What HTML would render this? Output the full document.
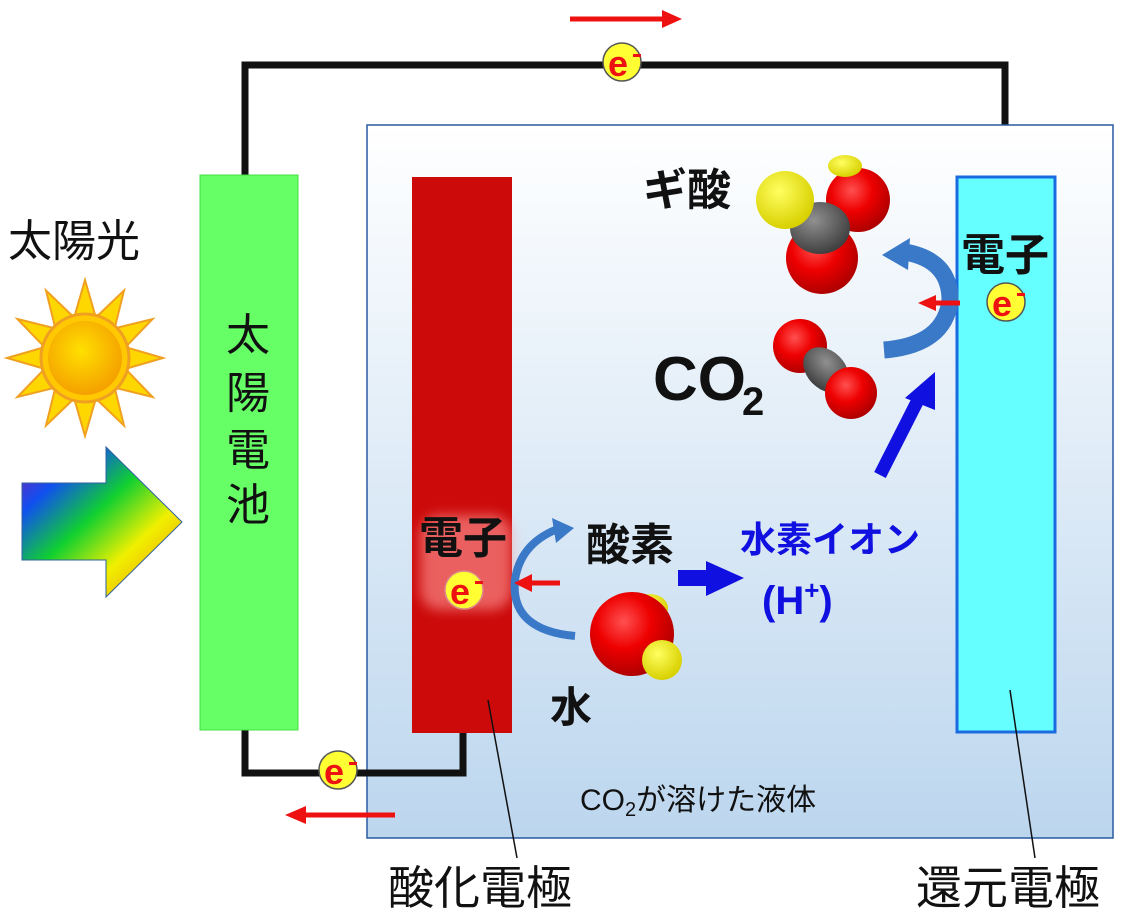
<!DOCTYPE html>
<html><head><meta charset="utf-8"><style>
html,body{margin:0;padding:0;background:#fff;}
svg{display:block;}
text{font-family:"Liberation Sans","Noto Sans CJK JP",sans-serif;}
</style></head><body>
<svg width="1124" height="917" viewBox="0 0 1124 917" xmlns="http://www.w3.org/2000/svg">
<defs>
<linearGradient id="liq" x1="0" y1="0" x2="0" y2="1"><stop offset="0" stop-color="#ffffff"/><stop offset="1" stop-color="#bcd6ee"/></linearGradient>
<linearGradient id="rb" x1="0" y1="0" x2="1" y2="1"><stop offset="0" stop-color="#8a1aa8"/><stop offset="0.22" stop-color="#1050f0"/><stop offset="0.45" stop-color="#10d030"/><stop offset="0.68" stop-color="#f0f000"/><stop offset="1" stop-color="#f08000"/></linearGradient>
<radialGradient id="sun" cx="0.45" cy="0.4" r="0.6"><stop offset="0" stop-color="#ffe000"/><stop offset="1" stop-color="#f5a000"/></radialGradient>
<radialGradient id="red" cx="0.4" cy="0.35" r="0.65"><stop offset="0" stop-color="#ff5050"/><stop offset="0.5" stop-color="#ee0000"/><stop offset="1" stop-color="#b00000"/></radialGradient>
<radialGradient id="yel" cx="0.4" cy="0.35" r="0.65"><stop offset="0" stop-color="#ffff60"/><stop offset="1" stop-color="#d8d000"/></radialGradient>
<radialGradient id="gry" cx="0.4" cy="0.35" r="0.65"><stop offset="0" stop-color="#909090"/><stop offset="1" stop-color="#404040"/></radialGradient>
<filter id="bl" x="-30%" y="-30%" width="160%" height="160%"><feGaussianBlur stdDeviation="6"/></filter>
</defs>

<polyline points="245,175 245,65 1005,65 1005,177" fill="none" stroke="#111" stroke-width="7"/>
<line x1="570" y1="19" x2="665" y2="19" stroke="#ee1111" stroke-width="5"/>
<polygon points="682,19 662,10 662,28" fill="#ee1111"/>

<rect x="367" y="125" width="746" height="713" fill="url(#liq)" stroke="#2a5aa0" stroke-width="1.5"/>

<polyline points="245,730 245,773 463,773 463,733" fill="none" stroke="#111" stroke-width="7"/>
<line x1="395" y1="815" x2="305" y2="815" stroke="#ee1111" stroke-width="5"/>
<polygon points="285,815 306,806 306,824" fill="#ee1111"/>

<rect x="200" y="175" width="98" height="555" fill="#66ff66" stroke="#44dd44" stroke-width="1"/>
<g font-size="44" text-anchor="middle" fill="#111">
<text x="248" y="350">太</text>
<text x="248" y="408">陽</text>
<text x="248" y="465">電</text>
<text x="248" y="520">池</text>
</g>

<rect x="412" y="177" width="100" height="556" fill="#cc0a0a"/>
<rect x="957" y="177" width="98" height="555" fill="#66ffff" stroke="#1a6ae0" stroke-width="3"/>

<line x1="488" y1="700" x2="517" y2="858" stroke="#111" stroke-width="1.5"/>
<line x1="1010" y1="690" x2="1035" y2="858" stroke="#111" stroke-width="1.5"/>

<g transform="translate(85,358)">
<g fill="#ffd700" stroke="#f0a020" stroke-width="2">
<polygon points="0,-78 11,-40 -11,-40" transform="rotate(0)"/>
<polygon points="0,-78 11,-40 -11,-40" transform="rotate(30)"/>
<polygon points="0,-78 11,-40 -11,-40" transform="rotate(60)"/>
<polygon points="0,-78 11,-40 -11,-40" transform="rotate(90)"/>
<polygon points="0,-78 11,-40 -11,-40" transform="rotate(120)"/>
<polygon points="0,-78 11,-40 -11,-40" transform="rotate(150)"/>
<polygon points="0,-78 11,-40 -11,-40" transform="rotate(180)"/>
<polygon points="0,-78 11,-40 -11,-40" transform="rotate(210)"/>
<polygon points="0,-78 11,-40 -11,-40" transform="rotate(240)"/>
<polygon points="0,-78 11,-40 -11,-40" transform="rotate(270)"/>
<polygon points="0,-78 11,-40 -11,-40" transform="rotate(300)"/>
<polygon points="0,-78 11,-40 -11,-40" transform="rotate(330)"/>
</g>
<circle r="44" fill="#ffc800" stroke="#f0a020" stroke-width="3"/>
<circle r="37" fill="url(#sun)"/>
</g>
<text x="8" y="256" font-size="44" fill="#111">太陽光</text>

<polygon points="22,483 106,483 106,447 182,522 106,597 106,560 22,560" fill="url(#rb)" stroke="#3060a0" stroke-width="1"/>

<rect x="420" y="515" width="92" height="95" rx="20" fill="#ff9999" opacity="0.6" filter="url(#bl)"/>

<g font-weight="bold">
<circle cx="622" cy="62" r="19" fill="#ffff33" stroke="#555" stroke-width="1.5"/><text x="618" y="76" font-size="36" fill="#ee1111" text-anchor="middle">e</text><rect x="633" y="54" width="8" height="3" fill="#ee1111"/>
<circle cx="338" cy="770" r="19" fill="#ffff33" stroke="#555" stroke-width="1.5"/><text x="334" y="784" font-size="36" fill="#ee1111" text-anchor="middle">e</text><rect x="349" y="762" width="8" height="3" fill="#ee1111"/>
<circle cx="1006" cy="302" r="19" fill="#ffff33" stroke="#555" stroke-width="1.5"/><text x="1002" y="316" font-size="36" fill="#ee1111" text-anchor="middle">e</text><rect x="1017" y="293" width="8" height="3" fill="#ee1111"/>
<circle cx="464" cy="590" r="19" fill="#ffff33" stroke="#dd8888" stroke-width="1.5"/><text x="460" y="604" font-size="36" fill="#ee1111" text-anchor="middle">e</text><rect x="475" y="581" width="8" height="3" fill="#ee1111"/>
</g>

<g font-weight="bold" fill="#111">
<text x="419" y="553" font-size="44">電子</text>
<text x="961" y="270" font-size="44">電子</text>
<text x="643" y="205" font-size="44">ギ酸</text>
<text x="653" y="400" font-size="62">CO</text>
<text x="742" y="415" font-size="40">2</text>
<text x="586" y="560" font-size="44">酸素</text>
<text x="550" y="722" font-size="42">水</text>
<text x="740" y="552" font-size="36" fill="#1010e0">水素イオン</text>
<text x="762" y="614" font-size="40" fill="#1010e0">(H<tspan font-size="26" dy="-15">+</tspan><tspan dy="15">)</tspan></text>
</g>
<text x="580" y="810" font-size="30" fill="#111">CO<tspan font-size="20" dy="6">2</tspan><tspan dy="-6">が溶けた液体</tspan></text>
<text x="388" y="904" font-size="46" fill="#111">酸化電極</text>
<text x="916" y="904" font-size="46" fill="#111">還元電極</text>

<path d="M575,636 Q510,630 515,580 Q520,545 555,530" fill="none" stroke="#3a78c8" stroke-width="8"/>
<polygon points="574,528 552,518 556,543" fill="#3a78c8"/>
<line x1="560" y1="583" x2="530" y2="583" stroke="#ee1111" stroke-width="5"/>
<polygon points="514,583 532,574 532,592" fill="#ee1111"/>
<rect x="678" y="570" width="30" height="16" fill="#1010e0"/>
<polygon points="706,561 744,578 706,596" fill="#1010e0"/>
<line x1="880" y1="475" x2="918" y2="400" stroke="#1010e0" stroke-width="13"/>
<polygon points="935,372 905,398 935,410" fill="#1010e0"/>

<path d="M884,350 Q945,345 950,300 Q950,260 905,252" fill="none" stroke="#3a78c8" stroke-width="17"/>
<polygon points="882,255 910,238 908,270" fill="#3a78c8"/>
<line x1="960" y1="303" x2="935" y2="303" stroke="#ee1111" stroke-width="5"/>
<polygon points="918,303 936,295 936,311" fill="#ee1111"/>

<!-- formic acid -->
<circle cx="858" cy="200" r="32" fill="url(#red)"/>
<circle cx="822" cy="258" r="36" fill="url(#red)"/>
<ellipse cx="820" cy="228" rx="30" ry="26" fill="url(#gry)"/>
<circle cx="785" cy="200" r="29" fill="url(#yel)"/>
<ellipse cx="845" cy="166" rx="17" ry="11" fill="url(#yel)"/>

<!-- CO2 -->
<circle cx="800" cy="346" r="27" fill="url(#red)"/>
<ellipse cx="826" cy="370" rx="26" ry="19" transform="rotate(45 826 370)" fill="url(#gry)"/>
<circle cx="851" cy="393" r="26" fill="url(#red)"/>

<!-- water -->
<ellipse cx="650" cy="608" rx="18" ry="14" fill="url(#yel)"/>
<circle cx="632" cy="634" r="42" fill="url(#red)"/>
<circle cx="662" cy="660" r="20" fill="url(#yel)"/>
</svg>
</body></html>
